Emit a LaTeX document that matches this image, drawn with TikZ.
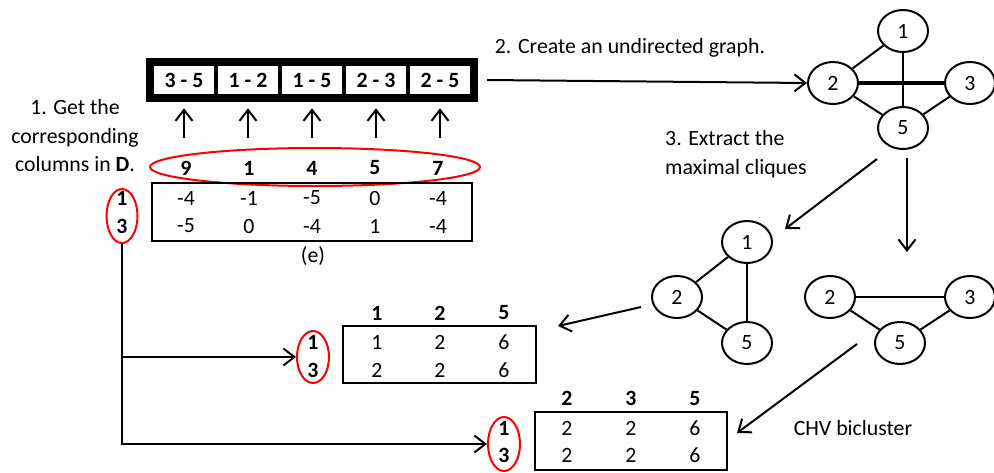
\documentclass[tikz,border=0pt]{standalone}
\usepackage{fontspec}
\setmainfont{Carlito}
\usetikzlibrary{arrows.meta,shapes.geometric}
\begin{document}
\begin{tikzpicture}[x=1pt,y=-1pt,
  every node/.style={font=\fontsize{21.8}{28.5}\selectfont},
  arr/.style={line width=2pt,-{Straight Barb[length=11pt,width=17pt]}},
  cell/.style={draw,line width=4.5pt,minimum width=64pt,minimum height=32pt,inner sep=0pt,font=\fontsize{21.8}{25}\selectfont\bfseries},
  tbl/.style={draw,line width=2pt,inner sep=0pt},
  hd/.style={font=\fontsize{21.8}{25}\selectfont\bfseries,inner sep=0pt},
  val/.style={inner sep=0pt},
  gnode/.style={draw,ellipse,line width=2pt,minimum width=50pt,minimum height=42pt,inner sep=0pt},
  gedge/.style={line width=2pt},
  redell/.style={draw=red,ellipse,line width=2pt,inner sep=0pt}
]
\useasboundingbox (0,0) rectangle (994,472);

% ---------- edge list boxes ----------
\foreach \t [count=\i] in {3 - 5,1 - 2,1 - 5,2 - 3,2 - 5}
  \node[cell] (c\i) at (120+64*\i,80) {\t};
\draw[line width=7pt] (c1.north west) rectangle (c5.south east);

% ---------- left text ----------
\node[align=center] (gettxt) at (75,136) {1. Get the\\corresponding\\columns in \textbf{D}.};

% ---------- column headers ----------
\foreach \t [count=\i] in {9,1,4,5,7}
  \node[hd] (h\i) at (123+63*\i,168) {\t};
\node[redell,minimum width=330pt,minimum height=38pt] (hdell) at (315,167) {};

% up arrows
\foreach \i in {1,...,5}
  \draw[arr] ([yshift=-40pt]c\i.south) -- ([yshift=-10pt]c\i.south);

% ---------- table (e) ----------
\node[tbl,minimum width=320pt,minimum height=58pt] (tabE) at (312,212) {};
\foreach \a/\b [count=\i] in {-4/-5,-1/0,-5/-4,0/1,-4/-4}{
  \node[val] (ea\i) at (123+63*\i,198) {\a};
  \node[val] (eb\i) at (123+63*\i,226) {\b};
}
\node[val] (elab) at (313,256) {(e)};
\node[hd] (r1) at (122,198) {1};
\node[hd] (r3) at (122,226) {3};
\node[redell,minimum width=31pt,minimum height=54pt] (rell) at (122,216) {};

% ---------- table 2 (1,2,5) ----------
\foreach \t/\x [count=\i] in {1/377,2/440,5/504}
  \node[hd] (ha\i) at (\x,313) {\t};
\node[tbl,minimum width=193pt,minimum height=57pt] (tabA) at (439.5,354.5) {};
\foreach \a/\b/\x [count=\i] in {1/2/377,2/2/440,6/6/504}{
  \node[val] (aa\i) at (\x,342) {\a};
  \node[val] (ab\i) at (\x,370) {\b};
}
\node[hd] (ra1) at (313,342) {1};
\node[hd] (ra3) at (313,370) {3};
\node[redell,minimum width=32pt,minimum height=52pt] (rella) at (313,357) {};

% ---------- table 3 (2,3,5) ----------
\foreach \t/\x [count=\i] in {2/567,3/631,5/695}
  \node[hd] (hb\i) at (\x,398) {\t};
\node[tbl,minimum width=192pt,minimum height=58pt] (tabB) at (631,441) {};
\foreach \a/\b/\x [count=\i] in {2/2/567,2/2/631,6/6/695}{
  \node[val] (ba\i) at (\x,428) {\a};
  \node[val] (bb\i) at (\x,455) {\b};
}
\node[hd] (rb1) at (504,428) {1};
\node[hd] (rb3) at (504,455) {3};
\node[redell,minimum width=32pt,minimum height=54pt] (rellb) at (504,444) {};

\node[val] (chv) at (853,428) {CHV bicluster};

% ---------- connectors from row selection ----------
\draw[arr] (rell.south) |- (rellb.west);
\draw[arr] (rell.south |- rella.west) -- (rella.west);

% ---------- big graph ----------
\node[gnode] (g1) at (903,31) {1};
\node[gnode] (g2) at (833,83) {2};
\node[gnode] (g3) at (970,83) {3};
\node[gnode] (g5) at (903,128) {5};
\draw[gedge] (g1) -- (g2);
\draw[gedge] (g1.south) -- (g5.north);
\draw[line width=3.5pt] (g2) -- (g3);
\draw[gedge] (g2) -- (g5);
\draw[gedge] (g3) -- (g5);

\node[val] (step2) at (630,48) {2. Create an undirected graph.};
\coordinate (a2s) at (487,80);
\draw[arr] (a2s) -- (g2.west);

\node[align=left,anchor=west,inner sep=0pt] (step3) at (665,154) {3. Extract the\\maximal cliques};

% ---------- clique graph A ----------
\node[gnode] (a1) at (747,242) {1};
\node[gnode] (a2) at (677,297) {2};
\node[gnode] (a5) at (747,343) {5};
\draw[gedge] (a1) -- (a2);
\draw[gedge] (a1) -- (a5);
\draw[gedge] (a2) -- (a5);

% ---------- clique graph B ----------
\node[gnode] (b2) at (830,297) {2};
\node[gnode] (b3) at (970,297) {3};
\node[gnode] (b5) at (900,343) {5};
\draw[gedge] (b2) -- (b3);
\draw[gedge] (b2) -- (b5);
\draw[gedge] (b3) -- (b5);

% ---------- extraction arrows ----------
\coordinate (x1s) at (877,159);
\coordinate (x1e) at (785,229);
\draw[arr] (x1s) -- (x1e);
\coordinate (x2s) at (907,158);
\coordinate (x2e) at (907,252);
\draw[arr] (x2s) -- (x2e);

\coordinate (y1s) at (641,307);
\coordinate (y1e) at (558,326);
\draw[arr] (y1s) -- (y1e);
\coordinate (y2s) at (857,344);
\coordinate (y2e) at (737,433);
\draw[arr] (y2s) -- (y2e);
\end{tikzpicture}
\end{document}
